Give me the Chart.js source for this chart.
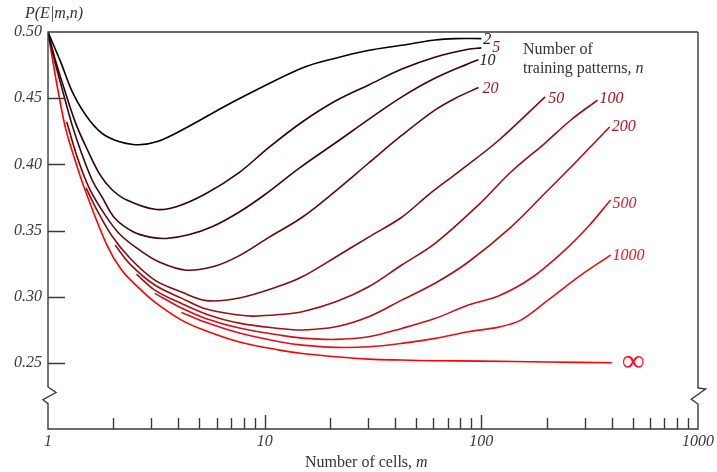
<!DOCTYPE html>
<html><head><meta charset="utf-8">
<script src="https://cdn.jsdelivr.net/npm/chart.js@4/dist/chart.umd.min.js"></script>
<style>html,body{margin:0;padding:0;background:#fff;}canvas{display:block;}</style>
</head><body>
<canvas id="c" width="717" height="472"></canvas>
<script>
// ---- data ----
const xTickLabels = [1, 10, 100, 1000];
const yTickLabels = [0.25, 0.30, 0.35, 0.40, 0.45, 0.50];
const seriesNames = ['2', '5', '10', '20', '50', '100', '200', '500', '1000', '\u221E'];

const m_n2 = [1, 1.14, 1.31, 1.56, 1.87, 2.47, 3.17, 4.5, 6.4, 9.1, 15, 21, 30, 43, 61, 76, 100];
const p_n2 = [0.500, 0.478, 0.453, 0.433, 0.421, 0.415, 0.417, 0.429, 0.443, 0.456, 0.473, 0.480, 0.486, 0.490, 0.494, 0.495, 0.495];

const m_n5 = [1, 1.08, 1.21, 1.35, 1.52, 1.74, 1.97, 2.31, 3.11, 3.91, 5.37, 7.65, 10.5, 14.9, 21.3, 30.2, 43, 61, 87, 100];
const p_n5 = [0.500, 0.479, 0.453, 0.430, 0.411, 0.392, 0.381, 0.373, 0.366, 0.368, 0.378, 0.394, 0.413, 0.432, 0.448, 0.460, 0.472, 0.481, 0.487, 0.488];

const m_n10 = [1, 1.07, 1.18, 1.29, 1.41, 1.6, 1.78, 2.04, 2.47, 2.95, 3.52, 4.5, 5.75, 7.64, 10, 14.4, 22, 30.2, 43, 61, 87, 97];
const p_n10 = [0.500, 0.479, 0.453, 0.430, 0.411, 0.388, 0.375, 0.359, 0.349, 0.345, 0.344, 0.347, 0.353, 0.364, 0.377, 0.397, 0.418, 0.434, 0.451, 0.465, 0.476, 0.479];

const m_n20 = [1.22, 1.38, 1.56, 1.83, 2.15, 2.66, 3.28, 4.35, 5.87, 7.64, 10.5, 14.9, 21.3, 30.2, 43, 61, 76, 97];
const p_n20 = [0.432, 0.403, 0.381, 0.362, 0.347, 0.335, 0.326, 0.320, 0.323, 0.331, 0.345, 0.360, 0.380, 0.401, 0.422, 0.441, 0.450, 0.458];

const m_n50 = [1.5, 1.7, 1.97, 2.39, 3.11, 4.13, 5.38, 7.64, 11.7, 14.9, 21.3, 30.2, 42.9, 57, 78, 120, 197];
const p_n50 = [0.382, 0.364, 0.346, 0.329, 0.3125, 0.3035, 0.297, 0.299, 0.308, 0.315, 0.330, 0.345, 0.360, 0.377, 0.394, 0.418, 0.451];

const m_n100 = [2.04, 2.39, 3.11, 4.13, 5.38, 7.64, 8.77, 11.7, 14.9, 21.3, 30.2, 42.9, 61.4, 96.8, 137, 197, 259, 344];
const p_n100 = [0.339, 0.3246, 0.3088, 0.2989, 0.2906, 0.2861, 0.2853, 0.2865, 0.2886, 0.2961, 0.3075, 0.3239, 0.3405, 0.3692, 0.3942, 0.4161, 0.4335, 0.4486];

const m_n200 = [2.56, 3.11, 4.13, 5.38, 7.64, 11.7, 14.9, 21.3, 30.2, 42.9, 61.4, 87.1, 137, 197, 279, 391];
const p_n200 = [0.317, 0.305, 0.2948, 0.2868, 0.280, 0.276, 0.2748, 0.2772, 0.2848, 0.2974, 0.3103, 0.3262, 0.3526, 0.3783, 0.4033, 0.4282];

const m_n500 = [3.11, 4.13, 5.38, 7.64, 11.7, 14.9, 21.3, 30.2, 42.9, 61.4, 87.1, 120, 170, 243, 310, 395];
const p_n500 = [0.3025, 0.2914, 0.2834, 0.2763, 0.271, 0.2687, 0.2677, 0.2697, 0.276, 0.2836, 0.2937, 0.3005, 0.3141, 0.3352, 0.3526, 0.373];

const m_n1000 = [4.13, 5.38, 7.64, 11.7, 14.9, 21.3, 30.2, 42.9, 61.4, 87.1, 120, 152, 203, 288, 395];
const p_n1000 = [0.2881, 0.2804, 0.2725, 0.2659, 0.2634, 0.2617, 0.2621, 0.2647, 0.2685, 0.2735, 0.277, 0.2823, 0.2974, 0.3163, 0.3314];

const m_inf = [1, 1.05, 1.12, 1.21, 1.34, 1.48, 1.87, 2.19, 2.66, 3.11, 4.13, 5.38, 7.64, 11.7, 14.9, 21.3, 30.2, 42.9, 61.4, 100, 203, 400];
const p_inf = [0.500, 0.479, 0.453, 0.426, 0.402, 0.381, 0.339, 0.320, 0.3057, 0.2959, 0.2823, 0.274, 0.2657, 0.2596, 0.2571, 0.2546, 0.2528, 0.2521, 0.2516, 0.2513, 0.2506, 0.2501];

// ---- styles ----
const lineColors = ['#000000', '#2a0606', '#3a0808', '#5c0c0c', '#7e0e10', '#951014', '#a81216', '#c8121c', '#e2101a', '#ff0000'];
const labelColors = ['#111111', '#7a1c1c', '#222222', '#9a1a1a', '#8a1a1e', '#9c1420', '#b01822', '#d02030', '#e01828', '#ff1020'];
const labelOffsets = [[2, 5], [11, 4], [1, 5.5], [4, 5], [3, 6], [2, 3], [2, 4], [2, 8], [2, 5], [10, 8]];

const allM = [m_n2, m_n5, m_n10, m_n20, m_n50, m_n100, m_n200, m_n500, m_n1000, m_inf];
const allP = [p_n2, p_n5, p_n10, p_n20, p_n50, p_n100, p_n200, p_n500, p_n1000, p_inf];

const datasets = seriesNames.map((name, i) => ({
  label: name,
  data: allM[i].map((m, j) => ({x: m, y: allP[i][j]})),
  borderColor: lineColors[i],
  borderWidth: 1.6,
  pointRadius: 0,
  fill: false,
  tension: 0.35
}));

const SERIF = '"Liberation Serif", "Times New Roman", serif';
const AXIS = '#3a3a3a';

const framePlugin = {
  id: 'frame',
  afterDatasetsDraw(chart) {
    const ctx = chart.ctx;
    const xs = chart.scales.x, ys = chart.scales.y;
    const L = xs.left, R = xs.right, T = ys.top, B = ys.bottom;
    ctx.save();
    ctx.strokeStyle = AXIS;
    ctx.lineWidth = 1.4;
    ctx.lineJoin = 'miter';
    // frame with axis breaks
    const zl = B - 42, zr = B - 41;
    ctx.beginPath();
    ctx.moveTo(R, T); ctx.lineTo(L, T);
    ctx.lineTo(L, zl); ctx.lineTo(L + 8, zl + 5.5); ctx.lineTo(L - 5, zl + 12.7); ctx.lineTo(L, zl + 16.7);
    ctx.lineTo(L, B); ctx.lineTo(R, B);
    ctx.lineTo(R, zr + 16); ctx.lineTo(R - 6.7, zr + 11.3); ctx.lineTo(R + 7.6, zr + 1); ctx.lineTo(R, zr);
    ctx.lineTo(R, T);
    ctx.stroke();
    // y tick marks (inward)
    ctx.beginPath();
    yTickLabels.forEach(v => {
      if (v >= 0.5) return;
      const y = Math.round(ys.getPixelForValue(v)) + 0.5;
      ctx.moveTo(L, y); ctx.lineTo(L + 17, y);
    });
    // x tick marks (inward), minor and major
    [1, 10, 100].forEach(d => {
      for (let k = 1; k <= 9; k++) {
        const m = k * d;
        if (m === 1) continue;
        const len = (k === 1) ? 14 : 11;
        const x = Math.round(xs.getPixelForValue(m)) + 0.5;
        ctx.moveTo(x, B); ctx.lineTo(x, B - len);
      }
    });
    ctx.stroke();

    // axis titles
    ctx.fillStyle = '#333';
    ctx.textBaseline = 'alphabetic';
    ctx.textAlign = 'left';
    ctx.font = 'italic 16px ' + SERIF;
    ctx.fillText('P(E|m,n)', 25, 18);

    ctx.font = '16px ' + SERIF;
    const t1 = 'Number of cells, ';
    ctx.fillText(t1, 305, 467);
    const w1 = ctx.measureText(t1).width;
    ctx.font = 'italic 16px ' + SERIF;
    ctx.fillText('m', 305 + w1, 467);

    // legend title
    ctx.font = '16px ' + SERIF;
    ctx.fillText('Number of', 523, 54);
    const t2 = 'training patterns, ';
    ctx.fillText(t2, 523, 73);
    const w2 = ctx.measureText(t2).width;
    ctx.font = 'italic 16px ' + SERIF;
    ctx.fillText('n', 523 + w2, 73);

    // curve labels at the end of each curve
    chart.data.datasets.forEach((ds, i) => {
      const meta = chart.getDatasetMeta(i);
      const last = meta.data[meta.data.length - 1];
      const [dx, dy] = labelOffsets[i];
      ctx.fillStyle = labelColors[i];
      if (ds.label === '\u221E') ctx.font = '32px ' + SERIF;
      else ctx.font = 'italic 16px ' + SERIF;
      ctx.fillText(ds.label, last.x + dx, last.y + dy);
    });
    ctx.restore();
  }
};

new Chart(document.getElementById('c'), {
  type: 'line',
  data: {datasets},
  options: {
    responsive: false,
    animation: false,
    devicePixelRatio: 1,
    layout: {padding: {top: 32, right: 16, left: 0, bottom: 0}},
    plugins: {legend: {display: false}, tooltip: {enabled: false}},
    scales: {
      x: {
        type: 'logarithmic', min: 1, max: 1000,
        grid: {display: false, drawTicks: false},
        border: {display: false},
        afterBuildTicks: s => { s.ticks = xTickLabels.map(v => ({value: v})); },
        afterFit: s => { s.height = 43; },
        ticks: {
          autoSkip: false, maxRotation: 0, padding: 3, color: '#3a3a3a',
          font: {family: SERIF, size: 16, style: 'italic'},
          callback: v => String(v)
        }
      },
      y: {
        type: 'linear', min: 0.2, max: 0.5,
        grid: {display: false, drawTicks: false},
        border: {display: false},
        afterBuildTicks: s => { s.ticks = yTickLabels.map(v => ({value: v})); },
        afterFit: s => { s.width = 48; },
        ticks: {
          padding: 6, color: '#3a3a3a',
          font: {family: SERIF, size: 16, style: 'italic'},
          callback: v => Number(v).toFixed(2)
        }
      }
    }
  },
  plugins: [framePlugin]
});
</script>
</body></html>
